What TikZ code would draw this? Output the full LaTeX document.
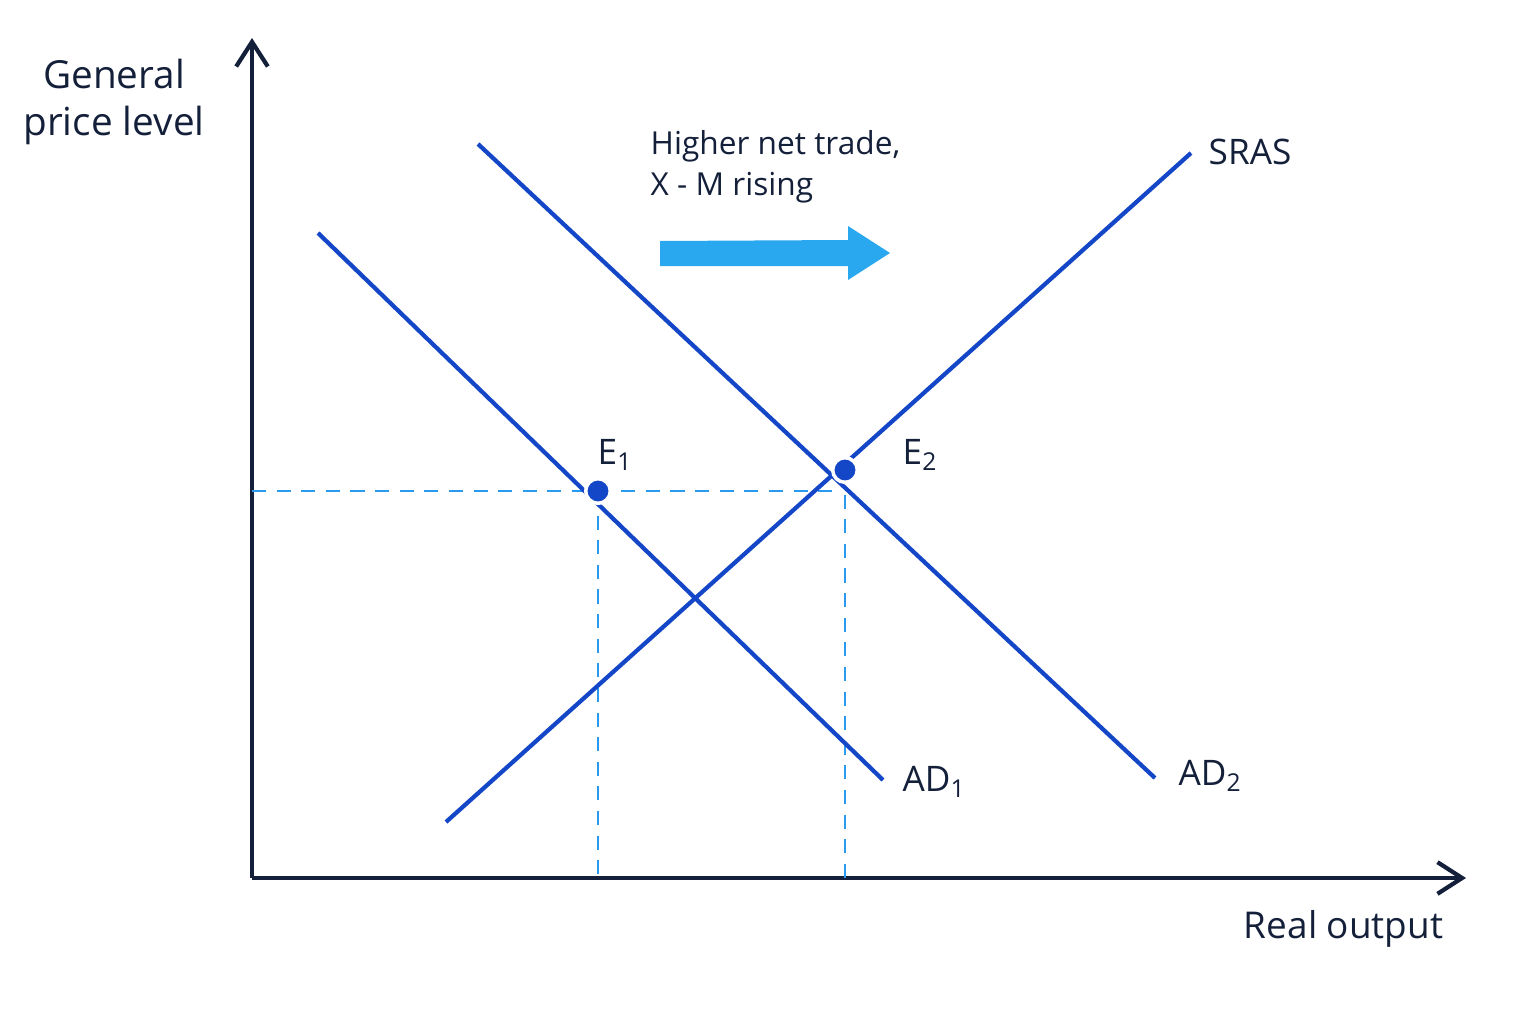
\documentclass[tikz,border=0pt]{standalone}
\usepackage{fontspec}
\setmainfont{Open Sans}
\usetikzlibrary{arrows.meta}
\definecolor{navy}{HTML}{14203A}
\definecolor{curvec}{HTML}{1446C8}
\definecolor{dashc}{HTML}{2A9AF0}
\definecolor{arrowc}{HTML}{29A8F0}
\begin{document}
\begin{tikzpicture}[x=0.01cm,y=-0.01cm,
  axis/.style={navy,line width=1.2pt,-{Straight Barb[length=7pt,width=9pt]}},
  curveline/.style={curvec,line width=1.2pt},
  dashline/.style={dashc,line width=0.8pt,dash pattern=on 4pt off 3pt},
  pt/.style={circle,fill=curvec,draw=white,line width=1pt,inner sep=0pt,minimum size=7pt},
  lab/.style={text=navy,font=\fontsize{10pt}{12pt}\selectfont,inner sep=0pt}]
\useasboundingbox (0,0) rectangle (1536,1024);
\coordinate (O) at (252,878);
\coordinate (Ytop) at (252,38);
\coordinate (Xend) at (1466,878);
\draw[axis] (O) -- (Ytop);
\draw[axis] (O) -- (Xend);
\coordinate (ad1a) at (318,233); \coordinate (ad1b) at (883,780);
\coordinate (ad2a) at (478,144); \coordinate (ad2b) at (1155,778);
\coordinate (sra) at (446,822); \coordinate (srb) at (1191,153);
\coordinate (yE1) at (252,491); \coordinate (xE1) at (598,878); \coordinate (xE2) at (845,878);
\coordinate (hE1) at (835,491);
\coordinate (E1c) at (598,491);
\coordinate (E2c) at (845,470);
\draw[dashline] (yE1) -- (hE1);
\draw[dashline] (E1c) -- (xE1);
\draw[dashline] (E2c) -- (xE2);
\draw[curveline] (ad1a) -- (ad1b);
\draw[curveline] (ad2a) -- (ad2b);
\draw[curveline] (sra) -- (srb);
\node[pt] (E1) at (E1c) {};
\node[pt] (E2) at (E2c) {};
\fill[arrowc] (660,241) -- (848,240) -- (848,226) -- (890,253) -- (848,280) -- (848,266) -- (660,266) -- cycle;
\node[lab,align=center,font=\fontsize{11pt}{13.5pt}\selectfont] (ylab) at (114,102) {General\\price level};
\node[lab,anchor=north east,font=\fontsize{10.5pt}{13pt}\selectfont] (xlab) at (1444,910) {Real output};
\node[lab,anchor=north west,align=left,font=\fontsize{9pt}{11.5pt}\selectfont] (note) at (650,130) {Higher net trade,\\X - M rising};
\node[lab,anchor=west] (sras) at (1208,152) {SRAS};
\node[lab,anchor=west] (ad1) at (902,782) {AD\textsubscript{1}};
\node[lab,anchor=west] (ad2) at (1178,776) {AD\textsubscript{2}};
\node[lab,anchor=west] (e1) at (597,455) {E\textsubscript{1}};
\node[lab,anchor=west] (e2) at (902,455) {E\textsubscript{2}};
\end{tikzpicture}
\end{document}
